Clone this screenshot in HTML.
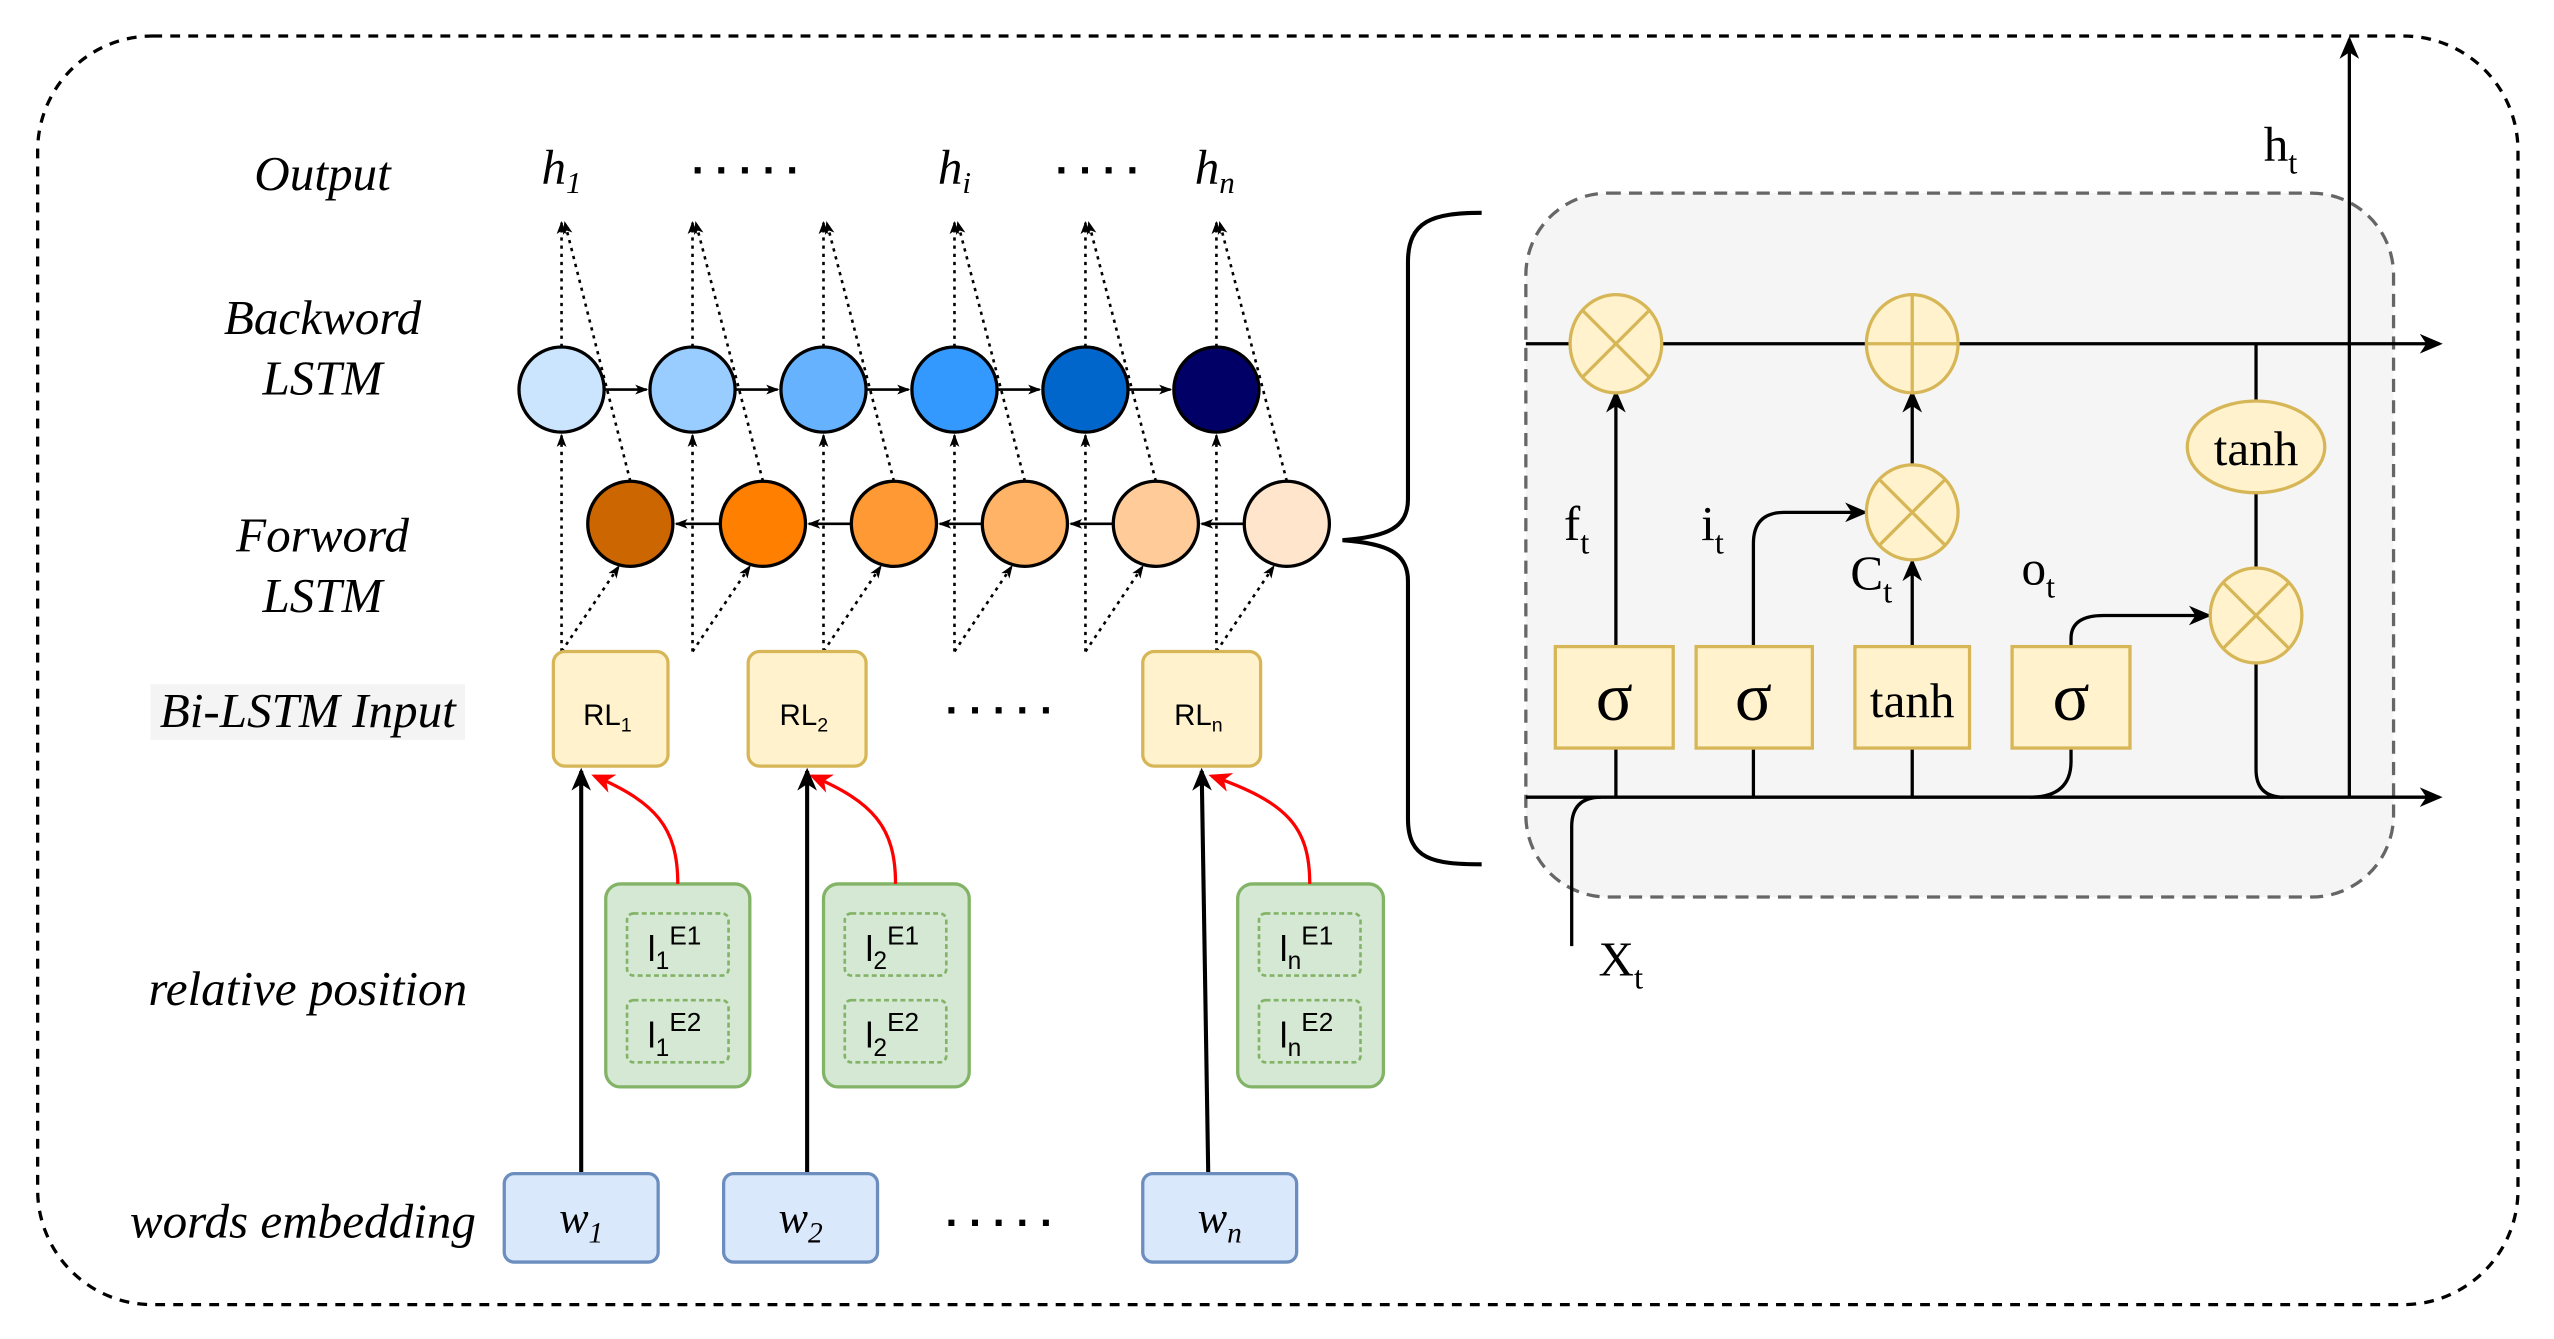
<!DOCTYPE html>
<html><head><meta charset="utf-8"><style>html,body{margin:0;padding:0;background:#fff}svg{display:block}</style></head>
<body>
<svg width="2554" height="1339" viewBox="0 0 1560 818" preserveAspectRatio="none" xmlns="http://www.w3.org/2000/svg">
<defs>
<marker id="a" markerWidth="10" markerHeight="10" refX="9" refY="5" orient="auto" markerUnits="userSpaceOnUse"><path d="M0,1 L10,5 L0,9 L3,5z" fill="#000"/></marker>
<marker id="s" markerWidth="8" markerHeight="8" refX="7" refY="4" orient="auto" markerUnits="userSpaceOnUse"><path d="M0,1 L8,4 L0,7 L2,4z" fill="#000"/></marker>
<marker id="r" markerWidth="14" markerHeight="12" refX="12" refY="6" orient="auto" markerUnits="userSpaceOnUse"><path d="M0,0 L14,6 L0,12 L4,6z" fill="#f00"/></marker>
<marker id="b" markerWidth="14" markerHeight="12" refX="12" refY="6" orient="auto" markerUnits="userSpaceOnUse"><path d="M0,0 L14,6 L0,12 L4,6z" fill="#000"/></marker>
</defs>
<rect x="23" y="22" width="1515" height="775" rx="70" fill="none" stroke="#000" stroke-width="2" stroke-dasharray="6,5"/>
<g font-family="'Liberation Serif', serif" font-style="italic" font-size="30" text-anchor="middle">
<text x="197" y="116">Output</text>
<text x="197" y="204">Backword</text><text x="197" y="241">LSTM</text>
<text x="197" y="337">Forword</text><text x="197" y="374">LSTM</text>
<rect x="92" y="418" width="192" height="34" fill="#f4f4f4"/>
<text x="188" y="444">Bi-LSTM Input</text>
<text x="188" y="614">relative position</text>
<text x="185" y="756">words embedding</text>
<text x="343" y="112">h<tspan font-size="19" dy="6">1</tspan></text>
<text x="583" y="112">h<tspan font-size="19" dy="6">i</tspan></text>
<text x="742" y="112">h<tspan font-size="19" dy="6">n</tspan></text>
</g>
<g font-family="'Liberation Sans', sans-serif" font-weight="bold" font-size="26" text-anchor="middle">
<text x="455" y="106">. . . . .</text><text x="670" y="106">. . . .</text>
<text x="610" y="436">. . . . .</text><text x="610" y="749">. . . . .</text>
</g>
<g stroke="#000" stroke-width="1.6" stroke-dasharray="2,3" fill="none">
<path d="M343,398V266" marker-end="url(#s)"/><path d="M343,398L378,346" marker-end="url(#s)"/><path d="M343,212V136" marker-end="url(#s)"/><path d="M385,294L345,136" marker-end="url(#s)"/>
<path d="M423,398V266" marker-end="url(#s)"/><path d="M423,398L458,346" marker-end="url(#s)"/><path d="M423,212V136" marker-end="url(#s)"/><path d="M466,294L425,136" marker-end="url(#s)"/>
<path d="M503,398V266" marker-end="url(#s)"/><path d="M503,398L538,346" marker-end="url(#s)"/><path d="M503,212V136" marker-end="url(#s)"/><path d="M546,294L505,136" marker-end="url(#s)"/>
<path d="M583,398V266" marker-end="url(#s)"/><path d="M583,398L618,346" marker-end="url(#s)"/><path d="M583,212V136" marker-end="url(#s)"/><path d="M626,294L585,136" marker-end="url(#s)"/>
<path d="M663,398V266" marker-end="url(#s)"/><path d="M663,398L698,346" marker-end="url(#s)"/><path d="M663,212V136" marker-end="url(#s)"/><path d="M706,294L665,136" marker-end="url(#s)"/>
<path d="M743,398V266" marker-end="url(#s)"/><path d="M743,398L778,346" marker-end="url(#s)"/><path d="M743,212V136" marker-end="url(#s)"/><path d="M786,294L745,136" marker-end="url(#s)"/>
</g>
<g stroke="#000" stroke-width="1.6">
<path d="M369,238H395" marker-end="url(#s)"/><path d="M449,238H475" marker-end="url(#s)"/><path d="M529,238H555" marker-end="url(#s)"/><path d="M609,238H635" marker-end="url(#s)"/><path d="M689,238H715" marker-end="url(#s)"/>
<path d="M760,320H734" marker-end="url(#s)"/><path d="M680,320H654" marker-end="url(#s)"/><path d="M600,320H574" marker-end="url(#s)"/><path d="M520,320H494" marker-end="url(#s)"/><path d="M440,320H413" marker-end="url(#s)"/>
</g>
<g stroke="#000" stroke-width="2">
<circle cx="343" cy="238" r="26" fill="#cce5ff"/><circle cx="423" cy="238" r="26" fill="#99ccff"/><circle cx="503" cy="238" r="26" fill="#66b2ff"/><circle cx="583" cy="238" r="26" fill="#3399ff"/><circle cx="663" cy="238" r="26" fill="#0066cc"/><circle cx="743" cy="238" r="26" fill="#000066"/>
<circle cx="385" cy="320" r="26" fill="#cc6600"/><circle cx="466" cy="320" r="26" fill="#ff8000"/><circle cx="546" cy="320" r="26" fill="#ff9933"/><circle cx="626" cy="320" r="26" fill="#ffb366"/><circle cx="706" cy="320" r="26" fill="#ffcc99"/><circle cx="786" cy="320" r="26" fill="#ffe5cc"/>
</g>
<g stroke="#d6b656" stroke-width="2" fill="#fff2cc">
<rect x="338" y="398" width="70" height="70" rx="7"/><rect x="457" y="398" width="72" height="70" rx="7"/><rect x="698" y="398" width="72" height="70" rx="7"/>
</g>
<g font-family="'Liberation Sans', sans-serif" font-size="18" text-anchor="middle">
<text x="371" y="443">RL<tspan font-size="12" dy="4">1</tspan></text><text x="491" y="443">RL<tspan font-size="12" dy="4">2</tspan></text><text x="732" y="443">RL<tspan font-size="12" dy="4">n</tspan></text>
</g>
<g stroke="#82b366" stroke-width="2" fill="#d5e8d4">
<rect x="370" y="540" width="88" height="124" rx="9"/><rect x="503" y="540" width="89" height="124" rx="9"/><rect x="756" y="540" width="89" height="124" rx="9"/>
</g>
<g stroke="#82b366" stroke-width="1.6" fill="none" stroke-dasharray="3,2">
<rect x="383" y="558" width="62" height="38" rx="4"/><rect x="383" y="611" width="62" height="38" rx="4"/>
<rect x="516" y="558" width="62" height="38" rx="4"/><rect x="516" y="611" width="62" height="38" rx="4"/>
<rect x="769" y="558" width="62" height="38" rx="4"/><rect x="769" y="611" width="62" height="38" rx="4"/>
</g>
<g font-family="'Liberation Sans', sans-serif" font-size="22" text-anchor="middle">
<text x="412" y="587">l<tspan font-size="15" dy="5">1</tspan><tspan font-size="16" dy="-15">E1</tspan></text>
<text x="412" y="640">l<tspan font-size="15" dy="5">1</tspan><tspan font-size="16" dy="-15">E2</tspan></text>
<text x="545" y="587">l<tspan font-size="15" dy="5">2</tspan><tspan font-size="16" dy="-15">E1</tspan></text>
<text x="545" y="640">l<tspan font-size="15" dy="5">2</tspan><tspan font-size="16" dy="-15">E2</tspan></text>
<text x="798" y="587">l<tspan font-size="15" dy="5">n</tspan><tspan font-size="16" dy="-15">E1</tspan></text>
<text x="798" y="640">l<tspan font-size="15" dy="5">n</tspan><tspan font-size="16" dy="-15">E2</tspan></text>
</g>
<g stroke="#f00" stroke-width="2" fill="none">
<path d="M414,540C414,505 400,490 363,474" marker-end="url(#r)"/>
<path d="M547,540C547,505 533,490 496,474" marker-end="url(#r)"/>
<path d="M800,540C800,505 786,490 740,474" marker-end="url(#r)"/>
</g>
<g stroke="#000" stroke-width="2.5">
<path d="M355,717V471" marker-end="url(#b)"/><path d="M493,717V471" marker-end="url(#b)"/><path d="M738,717L734,471" marker-end="url(#b)"/>
</g>
<g stroke="#6c8ebf" stroke-width="2" fill="#dae8fc">
<rect x="308" y="717" width="94" height="54" rx="6"/><rect x="442" y="717" width="94" height="54" rx="6"/><rect x="698" y="717" width="94" height="54" rx="6"/>
</g>
<g font-family="'Liberation Serif', serif" font-style="italic" font-size="27" text-anchor="middle">
<text x="355" y="753">w<tspan font-size="18" dy="6">1</tspan></text><text x="489" y="753">w<tspan font-size="18" dy="6">2</tspan></text><text x="745" y="753">w<tspan font-size="18" dy="6">n</tspan></text>
</g>
<path d="M905,130C875,130 860,135 860,160V305C860,322 848,328 820,330C848,332 860,338 860,355V500C860,525 875,528 905,528" fill="none" stroke="#000" stroke-width="2.5"/>
<rect x="932" y="118" width="530" height="430" rx="50" fill="#f5f5f5" stroke="#666" stroke-width="2" stroke-dasharray="8,5"/>
<g stroke="#000" stroke-width="2" fill="none">
<path d="M932,210H1490" marker-end="url(#b)"/>
<path d="M932,487H1490" marker-end="url(#b)"/>
<path d="M1435,487V24" marker-end="url(#b)"/>
<path d="M960,578V505Q960,487 978,487"/>
<path d="M987,487V457"/><path d="M1071,487V457"/><path d="M1168,487V457"/>
<path d="M1240,487Q1265,487 1265,465V457"/>
<path d="M987,395V240" marker-end="url(#b)"/>
<path d="M1071,395V332Q1071,313 1090,313H1139" marker-end="url(#b)"/>
<path d="M1168,395V343" marker-end="url(#b)"/>
<path d="M1168,285V240" marker-end="url(#b)"/>
<path d="M1265,395V390Q1265,376 1285,376H1349" marker-end="url(#b)"/>
<path d="M1378,348V301"/><path d="M1378,245V210"/>
<path d="M1378,404V470Q1378,487 1395,487"/>
</g>
<g stroke="#d6b656" stroke-width="2" fill="#fff2cc">
<ellipse cx="987" cy="210" rx="28" ry="30"/><ellipse cx="1168" cy="210" rx="28" ry="30"/><ellipse cx="1168" cy="313" rx="28" ry="29"/><ellipse cx="1378" cy="273" rx="42" ry="28"/><ellipse cx="1378" cy="376" rx="28" ry="29"/>
<rect x="950" y="395" width="72" height="62"/><rect x="1036" y="395" width="71" height="62"/><rect x="1133" y="395" width="70" height="62"/><rect x="1229" y="395" width="72" height="62"/>
</g>
<g stroke="#d6b656" stroke-width="2">
<path d="M967,190L1007,230M1007,190L967,230"/>
<path d="M1168,180V240M1140,210H1196"/>
<path d="M1148,293L1188,333M1188,293L1148,333"/>
<path d="M1358,356L1398,396M1398,356L1358,396"/>
</g>
<g font-family="'Liberation Serif', serif" font-size="30" text-anchor="middle">
<text x="986" y="440" font-size="42">σ</text><text x="1071" y="440" font-size="42">σ</text><text x="1168" y="438">tanh</text><text x="1265" y="440" font-size="42">σ</text>
<text x="1378" y="284">tanh</text>
<text x="963" y="330">f<tspan font-size="20" dy="8">t</tspan></text>
<text x="1046" y="330">i<tspan font-size="20" dy="8">t</tspan></text>
<text x="1143" y="360">C<tspan font-size="20" dy="8">t</tspan></text>
<text x="1245" y="357">o<tspan font-size="20" dy="8">t</tspan></text>
<text x="990" y="596">X<tspan font-size="20" dy="8">t</tspan></text>
<text x="1393" y="98">h<tspan font-size="20" dy="8">t</tspan></text>
</g>
</svg>
</body></html>
